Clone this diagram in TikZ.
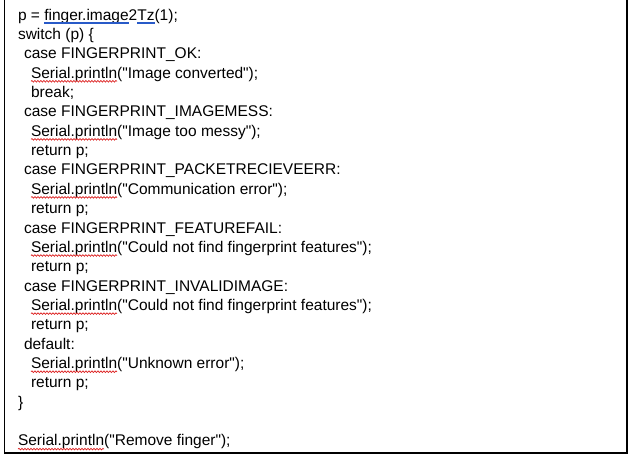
\documentclass[tikz,border=0pt]{standalone}
\usepackage{fontspec}
\setmainfont{Liberation Sans}[Ligatures=TeXOff]
\usetikzlibrary{decorations.pathmorphing}
\begin{document}
\begin{tikzpicture}[x=1pt,y=-1pt,
  code/.style={anchor=base west,inner sep=0pt,outer sep=0pt,font=\fontsize{15.5}{18}\selectfont},
  wavy/.style={draw={rgb,255:red,220;green,30;blue,30},line width=0.7pt,decorate,decoration={snake,amplitude=0.8pt,segment length=3pt}},
  dbl/.style={draw={rgb,255:red,40;green,90;blue,200},line width=0.6pt},
  frame/.style={draw=black,line width=1.1pt}]
\useasboundingbox (0,0) rectangle (630,456);
\coordinate (tl) at (4.5,0);
\coordinate (bl) at (4.5,453);
\coordinate (br) at (627,453);
\coordinate (tr) at (627,0);
\draw[frame] (tl) -- (bl) -- (br) -- (tr);
% line 1
\node[code] (l1a) at (18,20) {p = \null};
\node[code] (l1b) at (l1a.base east) {finger.image};
\node[code] (l1c) at (l1b.base east) {2};
\node[code] (l1d) at (l1c.base east) {Tz};
\node[code] (l1e) at (l1d.base east) {(1);};
\foreach \n in {l1b,l1d}{
  \draw[dbl] ([yshift=-1.8pt]\n.base west) -- ([yshift=-1.8pt]\n.base east);
  \draw[dbl] ([yshift=-3.6pt]\n.base west) -- ([yshift=-3.6pt]\n.base east);
}
\node[code] (l2) at (18,39.4) {switch (p) \{};
\node[code] (l3) at (24,58.7) {case FINGERPRINT\_OK:};
\node[code] (l4a) at (31,78.1) {Serial.println};
\node[code] (l4b) at (l4a.base east) {("Image converted");};
\node[code] (l5) at (31,97.4) {break;};
\node[code] (l6) at (24,116.8) {case FINGERPRINT\_IMAGEMESS:};
\node[code] (l7a) at (31,136.2) {Serial.println};
\node[code] (l7b) at (l7a.base east) {("Image too messy");};
\node[code] (l8) at (31,155.5) {return p;};
\node[code] (l9) at (24,174.9) {case FINGERPRINT\_PACKETRECIEVEERR:};
\node[code] (l10a) at (31,194.2) {Serial.println};
\node[code] (l10b) at (l10a.base east) {("Communication error");};
\node[code] (l11) at (31,213.6) {return p;};
\node[code] (l12) at (24,233.0) {case FINGERPRINT\_FEATUREFAIL:};
\node[code] (l13a) at (31,252.3) {Serial.println};
\node[code] (l13b) at (l13a.base east) {("Could not find fingerprint features");};
\node[code] (l14) at (31,271.7) {return p;};
\node[code] (l15) at (24,291.0) {case FINGERPRINT\_INVALIDIMAGE:};
\node[code] (l16a) at (31,310.4) {Serial.println};
\node[code] (l16b) at (l16a.base east) {("Could not find fingerprint features");};
\node[code] (l17) at (31,329.8) {return p;};
\node[code] (l18) at (24,349.1) {default:};
\node[code] (l19a) at (31,368.5) {Serial.println};
\node[code] (l19b) at (l19a.base east) {("Unknown error");};
\node[code] (l20) at (31,387.8) {return p;};
\node[code] (l21) at (18,407.2) {\}};
\node[code] (l23a) at (18,445.9) {Serial.println};
\node[code] (l23b) at (l23a.base east) {("Remove finger");};
\foreach \n in {l4a,l7a,l10a,l13a,l16a,l19a,l23a}{
  \draw[wavy] ([yshift=-3.2pt]\n.base west) -- ([yshift=-3.2pt]\n.base east);
}
\end{tikzpicture}
\end{document}
